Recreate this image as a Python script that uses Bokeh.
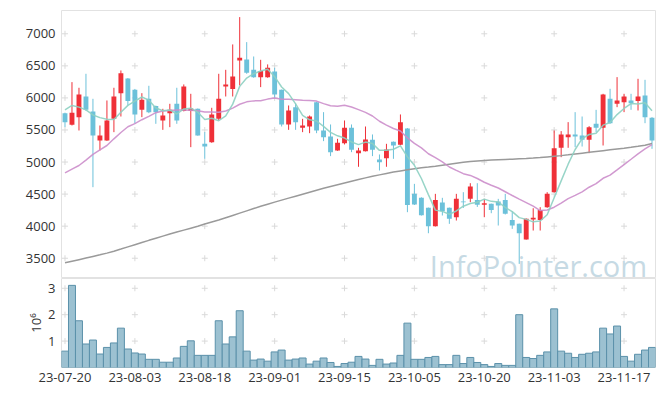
import numpy as np
import pandas as pd
from bokeh.plotting import figure
from bokeh.layouts import column
from bokeh.models import ColumnDataSource, FixedTicker, Range1d
from bokeh.core.properties import value
from bokeh.embed import file_html
from bokeh.resources import INLINE

opens = [5760, 5580, 5700, 6022, 5788, 5336, 5336, 5674, 6074, 6303,
         6126, 5814, 5986, 5872, 5648, 5762, 5908, 5794, 5794, 5830,
         5284, 5310, 5674, 6178, 6137, 6584, 6600, 6438, 6324, 6324,
         6412, 6126, 5586, 5856, 5534, 5554, 5934, 5492, 5398, 5180,
         5294, 5534, 5138, 5170, 5346, 5040, 5060, 5315, 5268, 5523,
         4504, 4442, 4286, 4000, 4369, 4286, 4140, 4385, 4426, 4410,
         4333, 4348, 4384, 4410, 4098, 4036, 3792, 4104, 4098, 4296,
         4530, 5222, 5388, 5430, 5414, 5346, 5596, 5534, 5986, 5908,
         5934, 5960, 5950, 6038, 5690]
highs = [5770, 6246, 6158, 6376, 5986, 5570, 5960, 6158, 6428, 6310,
         6140, 6074, 6189, 5880, 5830, 5908, 6158, 6210, 6064, 5835,
         5466, 5846, 6376, 6438, 6834, 7260, 6870, 6646, 6594, 6522,
         6470, 6130, 5882, 5918, 5674, 5726, 5940, 5778, 5586, 5362,
         5648, 5586, 5222, 5554, 5430, 5118, 5284, 5320, 5742, 5530,
         4660, 4450, 4290, 4504, 4442, 4290, 4504, 4530, 4670, 4670,
         4426, 4352, 4426, 4504, 4228, 4040, 4120, 4280, 4296, 4530,
         5492, 5482, 5622, 5778, 5710, 5560, 5814, 6064, 6142, 6324,
         6064, 6064, 6298, 6282, 5700]
lows = [5545, 5570, 5492, 5800, 4608, 5180, 5330, 5466, 5710, 5882,
        5596, 5700, 5762, 5596, 5502, 5544, 5596, 5790, 5232, 5410,
        5050, 5300, 5648, 6022, 6022, 6194, 6376, 6314, 6168, 6314,
        6002, 5554, 5502, 5502, 5466, 5450, 5450, 5326, 5092, 5175,
        5274, 5154, 4926, 5165, 5092, 4868, 4926, 5050, 5260, 4218,
        4330, 4165, 3890, 3995, 4166, 4036, 4088, 4284, 4374, 4300,
        4140, 4202, 4010, 4182, 3958, 3412, 3790, 3932, 3932, 4286,
        4525, 5076, 5222, 5232, 5242, 5138, 5466, 5258, 5596, 5856,
        5778, 5814, 5804, 5606, 5206]
closes = [5620, 5768, 6054, 5814, 5414, 5414, 5648, 6022, 6386, 5950,
          5742, 5970, 5778, 5778, 5726, 5814, 5648, 6178, 5835, 5414,
          5242, 5742, 5986, 6210, 6334, 6626, 6392, 6324, 6418, 6470,
          6054, 5586, 5804, 5622, 5570, 5710, 5492, 5388, 5154, 5300,
          5534, 5190, 5180, 5352, 5190, 4998, 5196, 5258, 5619, 4332,
          4338, 4171, 4000, 4410, 4234, 4114, 4426, 4372, 4618, 4333,
          4358, 4254, 4322, 4192, 4010, 3890, 4114, 4130, 4254, 4504,
          5216, 5430, 5430, 5398, 5346, 5544, 5534, 6054, 5606, 5960,
          6022, 5918, 6022, 5700, 5336]
volume_m = [0.62, 3.11, 1.77, 0.89, 1.04, 0.51, 0.76, 0.93, 1.49, 0.70,
            0.55, 0.51, 0.31, 0.31, 0.20, 0.20, 0.36, 0.80, 1.01, 0.46,
            0.46, 0.46, 1.77, 0.89, 1.16, 2.15, 0.62, 0.28, 0.32, 0.24,
            0.59, 0.66, 0.28, 0.32, 0.36, 0.13, 0.24, 0.36, 0.19, 0.04,
            0.15, 0.20, 0.42, 0.32, 0.08, 0.31, 0.13, 0.17, 0.46, 1.68,
            0.31, 0.31, 0.38, 0.42, 0.11, 0.11, 0.46, 0.15, 0.38, 0.19,
            0.11, 0.04, 0.15, 0.08, 0.08, 2.00, 0.38, 0.34, 0.46, 0.59,
            2.22, 0.62, 0.54, 0.38, 0.50, 0.54, 0.59, 1.49, 1.27, 1.57,
            0.42, 0.24, 0.50, 0.66, 0.76]
ma5_head = [5814, 5882, 5856, 5814]
ma20_head = [4832, 4890, 4946, 5030, 5120, 5190, 5258, 5362, 5460, 5550,
             5600, 5660, 5712, 5770, 5795, 5805, 5812, 5812, 5808]
ma120 = [3428, 3453, 3478, 3503, 3528, 3553, 3580, 3610, 3643, 3677,
         3711, 3745, 3779, 3812, 3845, 3877, 3908, 3938, 3968, 3998,
         4035, 4065, 4095, 4131, 4167, 4203, 4239, 4275, 4310, 4343,
         4375, 4406, 4437, 4468, 4499, 4530, 4561, 4590, 4618, 4646,
         4673, 4700, 4727, 4753, 4777, 4800, 4822, 4843, 4862, 4880,
         4896, 4910, 4922, 4935, 4950, 4965, 4980, 4995, 5008, 5018,
         5025, 5030, 5035, 5040, 5045, 5050, 5055, 5062, 5070, 5080,
         5090, 5100, 5112, 5125, 5138, 5151, 5164, 5177, 5190, 5203,
         5216, 5230, 5245, 5262, 5290]
tick_idx = [0, 10, 20, 30, 40, 50, 60, 70, 80]
tick_labels = ["23-07-20", "23-08-03", "23-08-18", "23-09-01", "23-09-15",
               "23-10-05", "23-10-20", "23-11-03", "23-11-17"]
price_ticks = [3500, 4000, 4500, 5000, 5500, 6000, 6500, 7000]
vol_ticks = [1, 2, 3]
watermark = "InfoPointer.com"

UP = "#ef3038"
DOWN = "#6cc1da"
FONT = "Open Sans"

n = len(closes)
idx = np.arange(n)
cs = pd.Series(closes, dtype=float)
ma5 = cs.rolling(5).mean().to_numpy()
ma5[:4] = ma5_head
ma20 = cs.rolling(20).mean().to_numpy()
ma20[:19] = ma20_head

o = np.array(opens, float)
c = np.array(closes, float)
colors = [UP if cc >= oo else DOWN for oo, cc in zip(o, c)]
src = ColumnDataSource(dict(x=idx, high=highs, low=lows,
                            top=np.maximum(o, c), bottom=np.minimum(o, c),
                            color=colors, vol=volume_m))

xr = Range1d(-0.5, n - 0.5)
p = figure(width=657, height=278, x_range=xr, y_range=Range1d(3184, 7363),
           output_backend="svg", toolbar_location=None, x_axis_location=None,
           min_border_left=61, min_border_right=2, min_border_top=10, min_border_bottom=0)
p.grid.visible = False
p.outline_line_color = "#e2e2e2"
p.yaxis.ticker = FixedTicker(ticks=price_ticks)
p.yaxis.axis_line_color = None
p.yaxis.major_tick_line_color = None
p.yaxis.minor_tick_line_color = None
p.yaxis.major_tick_out = 0
p.yaxis.minor_tick_out = 0
p.yaxis.major_label_standoff = 6
p.yaxis.major_label_text_font = FONT
p.yaxis.major_label_text_font_size = "13px"
p.yaxis.major_label_text_color = "#333333"

gx = [x for x in tick_idx for _ in price_ticks]
gy = [y for _ in tick_idx for y in price_ticks]
p.scatter(gx, gy, marker="cross", size=6, line_color="#dadada", line_width=1)

p.text(x=[52.2], y=[3385], text=[watermark], text_font=value(FONT),
       text_font_size="29px", text_color="#c6dae4", text_baseline="alphabetic")

p.segment(x0="x", y0="low", x1="x", y1="high", line_color="color", line_width=1, source=src)
p.vbar(x="x", width=0.7, top="top", bottom="bottom", fill_color="color",
       line_color=None, source=src)
p.line(idx, ma120, line_color="#9a9a9a", line_width=1.5)
p.line(idx, ma20, line_color="#cc8ecb", line_width=1.5, line_alpha=0.9)
p.line(idx, ma5, line_color="#8dd0c2", line_width=1.5, line_alpha=0.9)

v = figure(width=657, height=112, x_range=xr, y_range=Range1d(0, 3.37),
           output_backend="svg", toolbar_location=None,
           min_border_left=61, min_border_right=2, min_border_top=0, min_border_bottom=23)
v.grid.visible = False
v.outline_line_color = "#e2e2e2"
vgx = [x for x in tick_idx for _ in vol_ticks]
vgy = [y for _ in tick_idx for y in vol_ticks]
v.scatter(vgx, vgy, marker="cross", size=6, line_color="#dadada", line_width=1)
v.vbar(x="x", width=1.0, top="vol", bottom=0, fill_color="#9cc1d1",
       line_color="#5b91aa", line_width=1, source=src)
v.xaxis.ticker = FixedTicker(ticks=tick_idx)
v.xaxis.major_label_overrides = {t: l for t, l in zip(tick_idx, tick_labels)}
v.yaxis.ticker = FixedTicker(ticks=vol_ticks)
v.yaxis.axis_label = "10⁶"
v.yaxis.axis_label_text_font = FONT
v.yaxis.axis_label_text_font_style = "normal"
v.yaxis.axis_label_text_font_size = "13px"
v.yaxis.axis_label_text_color = "#333333"
v.yaxis.axis_label_standoff = 0
for ax in (v.xaxis[0], v.yaxis[0]):
    ax.axis_line_color = None
    ax.major_tick_line_color = None
    ax.minor_tick_line_color = None
    ax.major_tick_out = 0
    ax.minor_tick_out = 0
    ax.major_label_text_font = FONT
    ax.major_label_text_font_size = "13px"
    ax.major_label_text_color = "#333333"
v.yaxis.major_label_standoff = 6
v.xaxis.major_label_standoff = 5

layout = column(p, v, spacing=0)
open("out.html", "w").write(file_html(layout, INLINE))
